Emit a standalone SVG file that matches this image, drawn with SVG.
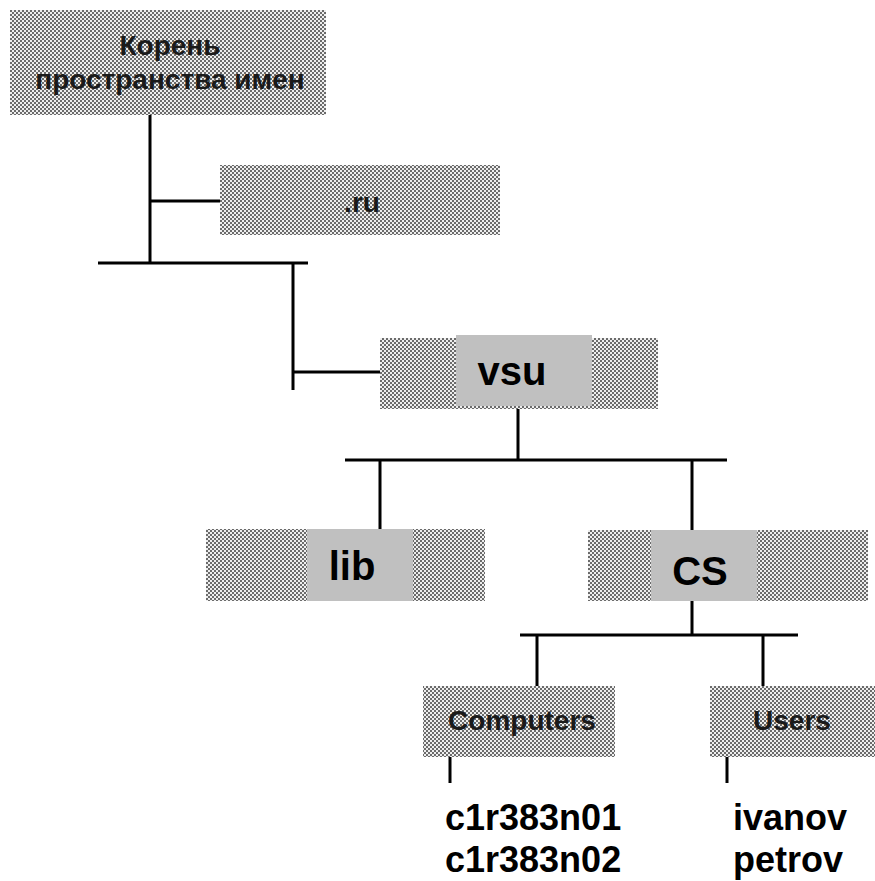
<svg xmlns="http://www.w3.org/2000/svg" width="875" height="881" viewBox="0 0 875 881">
<style>
.ln{stroke:#000;stroke-width:3;fill:none}
.dot{fill:url(#ht)}
.solid{fill:#c0c0c0}
.t{font-family:"Liberation Sans",Arial,sans-serif;font-weight:bold;font-size:28px;fill:#1a1a1a}
.b{font-family:"Liberation Sans",Arial,sans-serif;font-weight:bold;font-size:40px;fill:#000}
.leaf{font-family:"Liberation Sans",Arial,sans-serif;font-weight:bold;font-size:36px;fill:#000}
</style>
<defs>
<pattern id="ht" width="4" height="4" patternUnits="userSpaceOnUse">
<rect width="4" height="4" fill="#eeeeee"/>
<circle cx="1" cy="1" r="0.95" fill="#333"/>
<circle cx="3" cy="3" r="0.95" fill="#333"/>
</pattern>
</defs>
<rect width="875" height="881" fill="#fff"/>
<g id="connectors">
<path class="ln" d="M150,115 V263 M150,201 H222 M98,263 H308 M293,263 V390 M293,372 H380"/>
<path class="ln" d="M518,406 V460 M345,460 H727 M380,460 V529 M692,460 V530"/>
<path class="ln" d="M692,601 V635 M520,635 H798 M537,635 V687 M763,635 V687"/>
<path class="ln" d="M450,757 V783 M727,757 V783"/>
</g>
<g id="root">
<rect class="dot" x="10" y="10" width="316" height="105"/>
<text class="t" x="170" y="55" text-anchor="middle">Корень</text>
<text class="t" x="170" y="89" text-anchor="middle">пространства имен</text>
</g>
<g id="ru">
<rect class="dot" x="220" y="165" width="280" height="70"/>
<text class="t" x="362" y="212" text-anchor="middle">.ru</text>
</g>
<g id="vsu">
<rect class="dot" x="380" y="338" width="278" height="71"/>
<rect class="solid" x="456" y="335" width="136" height="71"/>
<text class="b" x="512" y="385" text-anchor="middle">vsu</text>
</g>
<g id="lib">
<rect class="dot" x="206" y="529" width="279" height="72"/>
<rect class="solid" x="307" y="529" width="106" height="72"/>
<text class="b" x="352" y="580" text-anchor="middle">lib</text>
</g>
<g id="cs">
<rect class="dot" x="588" y="530" width="280" height="71"/>
<rect class="solid" x="651" y="530" width="106" height="71"/>
<text class="b" x="700" y="585" text-anchor="middle">CS</text>
</g>
<g id="computers">
<rect class="dot" x="423" y="686" width="192" height="71"/>
<text class="t" x="522" y="730" text-anchor="middle">Computers</text>
</g>
<g id="users">
<rect class="dot" x="710" y="686" width="165" height="71"/>
<text class="t" x="792" y="730" text-anchor="middle">Users</text>
</g>
<g id="hosts">
<text class="leaf" x="445" y="830">c1r383n01</text>
<text class="leaf" x="445" y="872">c1r383n02</text>
</g>
<g id="usernames">
<text class="leaf" x="733" y="830">ivanov</text>
<text class="leaf" x="733" y="872">petrov</text>
</g>
</svg>
